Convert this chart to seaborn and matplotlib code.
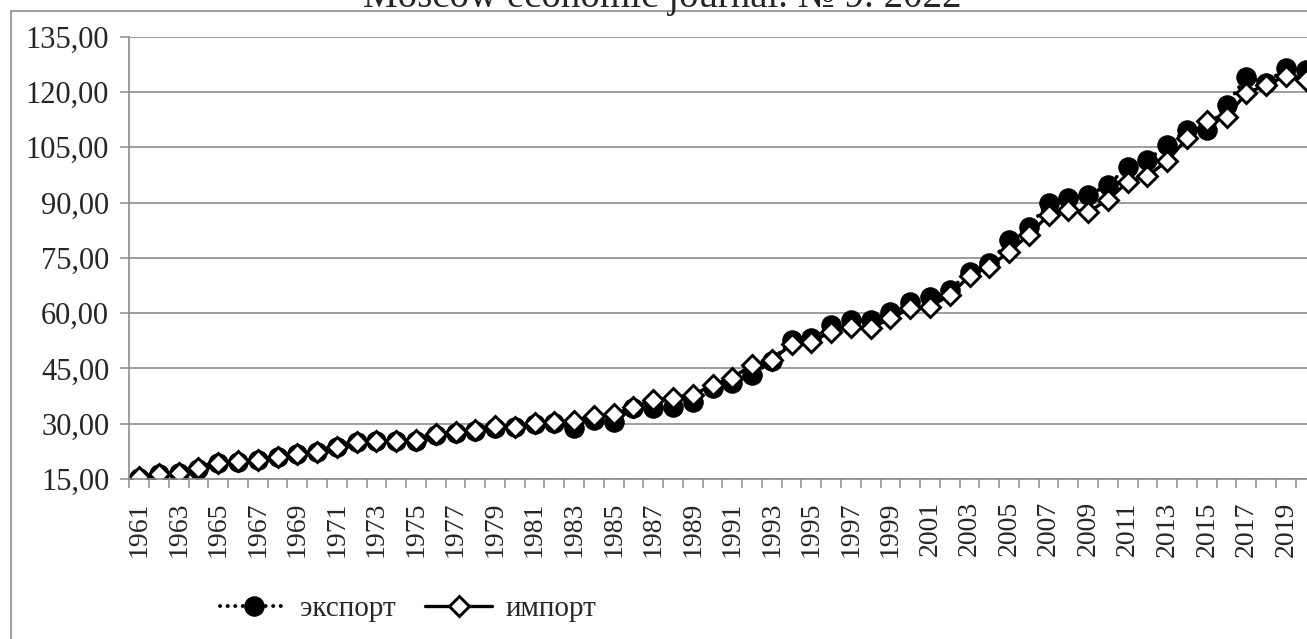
import pandas as pd
import matplotlib
matplotlib.use("Agg")
import matplotlib.pyplot as plt
import matplotlib.ticker as mtick
from matplotlib.patches import Rectangle
import seaborn as sns

# ================================
# DATA
# ================================
years = list(range(1961, 2021))

export_vals = [15.4, 16.3, 16.6, 17.8, 19.3, 19.7, 20.1, 21.0, 21.7, 22.3,
               23.6, 25.0, 25.3, 25.2, 25.4, 27.0, 27.4, 27.9, 28.7, 29.0,
               30.0, 30.3, 28.8, 31.0, 30.5, 34.3, 34.2, 34.6, 36.0, 39.7,
               41.1, 43.2, 47.0, 52.7, 53.2, 56.8, 58.1, 58.1, 60.4, 63.1,
               64.4, 66.3, 71.2, 73.5, 79.8, 83.4, 89.8, 91.1, 92.0, 94.7,
               99.7, 101.5, 105.6, 109.8, 109.7, 116.4, 124.1, 122.5, 126.4, 125.9]

import_vals = [15.5, 16.4, 16.5, 17.9, 19.4, 19.8, 20.2, 21.0, 21.8, 22.4,
               23.8, 25.1, 25.4, 25.4, 25.6, 27.3, 27.7, 28.3, 29.4, 29.2,
               30.3, 30.5, 30.8, 32.1, 32.5, 34.6, 36.4, 37.1, 37.8, 40.5,
               42.5, 45.9, 47.3, 51.5, 52.2, 55.0, 56.3, 55.9, 58.6, 61.3,
               61.7, 64.9, 70.1, 72.6, 76.6, 81.3, 86.6, 88.1, 87.5, 90.7,
               95.6, 97.2, 101.3, 107.4, 112.2, 113.3, 119.6, 121.9, 124.3, 123.2]

y_ticks = [15, 30, 45, 60, 75, 90, 105, 120, 135]
x_labels = years[::2]
title_text = "Moscow economic journal. № 9. 2022"

df = pd.DataFrame({"year": years, "экспорт": export_vals, "импорт": import_vals})

# ================================
# STYLE
# ================================
sns.set_style("white")
plt.rcParams["font.family"] = ["Liberation Serif", "DejaVu Serif"]

W, H = 1307, 639
fig = plt.figure(figsize=(W / 100, H / 100), dpi=100)

# axes placed in pixel terms (plot runs off the right edge like the source)
left_px, right_px, top_px, bottom_px = 129.3, 1315.5, 36.6, 479
ax = fig.add_axes([left_px / W, 1 - bottom_px / H,
                   (right_px - left_px) / W, (bottom_px - top_px) / H])

grey = "#8c8c8c"

sns.lineplot(data=df, x="year", y="экспорт", ax=ax, color="black",
             linestyle=(0, (0.05, 1.9)), linewidth=2.8, dash_capstyle="round",
             marker="o", markersize=14, markerfacecolor="black",
             markeredgecolor="black", label="экспорт")
sns.lineplot(data=df, x="year", y="импорт", ax=ax, color="black",
             linestyle="-", linewidth=2.4,
             marker="D", markersize=10, markerfacecolor="white",
             markeredgecolor="black", markeredgewidth=2.1, label="импорт")

ax.set_xlim(1960.5, 2020.5)
ax.set_ylim(15, 135)
ax.set_xlabel("")
ax.set_ylabel("")

# y axis
ax.set_yticks(y_ticks)
ax.yaxis.set_major_formatter(mtick.FuncFormatter(lambda v, p: f"{v:.2f}".replace(".", ",")))
ax.yaxis.grid(True, color=grey, linewidth=1.2)
ax.tick_params(axis="y", which="major", length=6.5, width=1.1, color=grey,
               pad=8, labelsize=22, left=True)

# x axis: labels every 2 years, ticks between categories
ax.set_xticks(x_labels)
ax.set_xticklabels([str(y) for y in x_labels], rotation=90)
ax.set_xticks([y + 0.5 for y in years[:-1]] + [1960.5], minor=True)
ax.tick_params(axis="x", which="major", length=0, pad=16, labelsize=20, bottom=True)
ax.tick_params(axis="x", which="minor", length=6.5, width=1.1, color=grey, bottom=True)

for side in ["top", "right"]:
    ax.spines[side].set_visible(False)
for side in ["left", "bottom"]:
    ax.spines[side].set_color(grey)
    ax.spines[side].set_linewidth(1.2)

ax.get_legend().remove()
handles, labels = ax.get_legend_handles_labels()
fig.legend(handles, labels, loc="center", bbox_to_anchor=(408 / W, 1 - 609 / H),
           ncol=2, frameon=False, fontsize=21, handlelength=2.3,
           handletextpad=0.45, columnspacing=1.0)

# outer chart frame and clipped title
fig.patches.append(Rectangle((11 / W, -0.01), 1.1, 1 - 11 / H + 0.01,
                             transform=fig.transFigure, fill=False,
                             edgecolor=grey, linewidth=1.2))
fig.text(662 / W, 1 - 7 / H, title_text, ha="center", va="baseline", fontsize=28)

fig.savefig("out.png", dpi=100)
